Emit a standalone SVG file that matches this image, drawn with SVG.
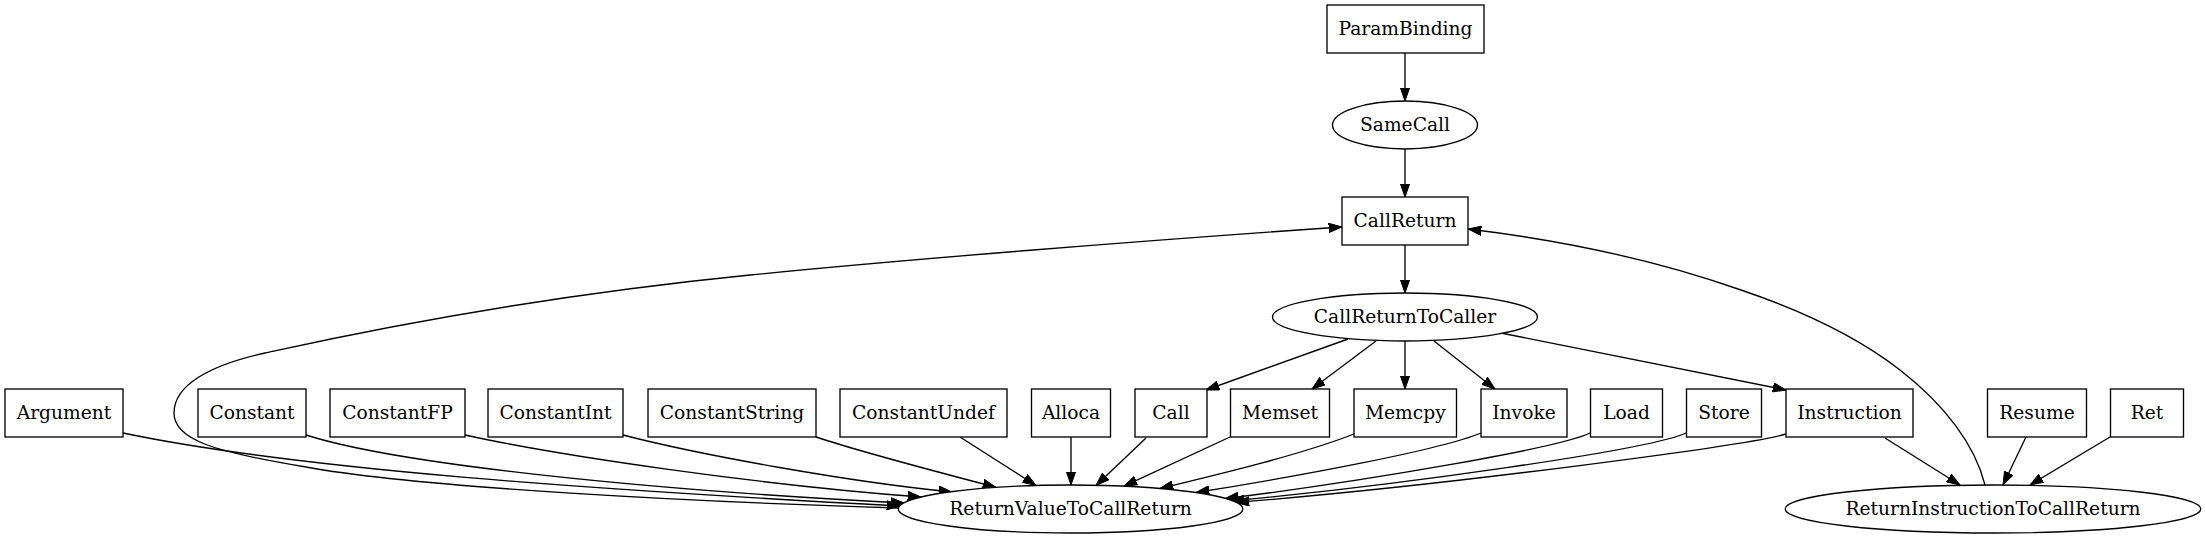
<svg xmlns="http://www.w3.org/2000/svg" width="2206" height="539" viewBox="0 0 2206 539">
<style>
.n rect, .n ellipse { fill: #ffffff; stroke: #000000; stroke-width: 1.33; }
.n text { font-size: 18.67px; fill: #000000; text-anchor: middle; }
.e path { fill: none; stroke: #000000; stroke-width: 1.33; marker-end: url(#arr); }
</style>
<defs>
<marker id="arr" markerUnits="userSpaceOnUse" markerWidth="14" markerHeight="10" viewBox="0 0 14 10" refX="13.3" refY="5" orient="auto">
<path d="M0,0.33 L13.3,5 L0,9.67 z" fill="#000000" stroke="#000000" stroke-width="1"/>
</marker>
</defs>
<rect width="2206" height="539" fill="#ffffff"/>
<g id="edges" class="e">
<path d="M1405,53 L1405,101"/>
<path d="M1405,149 L1405,197"/>
<path d="M1405,245 L1405,293"/>
<path d="M1348,339 L1206,390"/>
<path d="M1376,341 L1312,389"/>
<path d="M1405,341 L1405,389"/>
<path d="M1434,341 L1495,389"/>
<path d="M1501,333 L1786,390"/>
<path d="M898,508 C700,502 420,488 306,467 C215,452 174,440 174,413 C174,385 210,365 265,353 C320,341 500,300 750,275 C900,260 1150,240 1342,227"/>
<path d="M1985,485 C1975,445 1945,405 1900,370 C1855,335 1800,310 1741,290 C1650,258 1560,240 1468,229"/>
<path d="M123,433 C300,470 600,490 900,506"/>
<path d="M306,435 C400,465 650,490 904,503"/>
<path d="M465,435 C560,456 760,485 921,497"/>
<path d="M623,435 C700,455 850,482 952,492"/>
<path d="M816,437 C860,452 950,475 996,487.4"/>
<path d="M960,437 L1036,485.5"/>
<path d="M1071,437 L1071,485"/>
<path d="M1146,438 L1096,485.5"/>
<path d="M1230,437 L1124,486.2"/>
<path d="M1354,434 C1300,455 1220,474 1160,488.5"/>
<path d="M1481,433 C1440,450 1300,476 1196,492.5"/>
<path d="M1590,433 C1560,448 1360,482 1225,498.6"/>
<path d="M1686,433 C1650,450 1400,485 1231,501"/>
<path d="M1786,434 C1750,445 1450,485 1236,502.5"/>
<path d="M1885,438 L1960,485"/>
<path d="M2026,437 L2003,485"/>
<path d="M2110,437 L2030,485"/>
</g>
<g font-family="DejaVu Serif, serif">
<g id="ParamBinding" class="n"><rect x="1327" y="5" width="157" height="48"/><text x="1405.5" y="35">ParamBinding</text></g>
<g id="SameCall" class="n"><ellipse cx="1405" cy="125" rx="72.5" ry="24"/><text x="1405" y="131">SameCall</text></g>
<g id="CallReturn" class="n"><rect x="1342" y="197" width="126" height="48"/><text x="1405" y="227">CallReturn</text></g>
<g id="CallReturnToCaller" class="n"><ellipse cx="1405" cy="317" rx="132.5" ry="24"/><text x="1405" y="323">CallReturnToCaller</text></g>
<g id="Argument" class="n"><rect x="5" y="389" width="118" height="48"/><text x="64" y="419">Argument</text></g>
<g id="Constant" class="n"><rect x="198" y="389" width="108" height="48"/><text x="252" y="419">Constant</text></g>
<g id="ConstantFP" class="n"><rect x="330" y="389" width="135" height="48"/><text x="397.5" y="419">ConstantFP</text></g>
<g id="ConstantInt" class="n"><rect x="488" y="389" width="135" height="48"/><text x="555.5" y="419">ConstantInt</text></g>
<g id="ConstantString" class="n"><rect x="648" y="389" width="168" height="48"/><text x="732" y="419">ConstantString</text></g>
<g id="ConstantUndef" class="n"><rect x="840" y="389" width="167" height="48"/><text x="923.5" y="419">ConstantUndef</text></g>
<g id="Alloca" class="n"><rect x="1031.5" y="389" width="79" height="48"/><text x="1071" y="419">Alloca</text></g>
<g id="Call" class="n"><rect x="1135" y="389" width="72" height="48"/><text x="1171" y="419">Call</text></g>
<g id="Memset" class="n"><rect x="1230.5" y="389" width="99" height="48"/><text x="1280" y="419">Memset</text></g>
<g id="Memcpy" class="n"><rect x="1354" y="389" width="102.5" height="48"/><text x="1405.3" y="419">Memcpy</text></g>
<g id="Invoke" class="n"><rect x="1481" y="389" width="86" height="48"/><text x="1524" y="419">Invoke</text></g>
<g id="Load" class="n"><rect x="1590.5" y="389" width="72" height="48"/><text x="1626.5" y="419">Load</text></g>
<g id="Store" class="n"><rect x="1686.5" y="389" width="75" height="48"/><text x="1724" y="419">Store</text></g>
<g id="Instruction" class="n"><rect x="1786" y="389" width="127" height="48"/><text x="1849.5" y="419">Instruction</text></g>
<g id="Resume" class="n"><rect x="1987.5" y="389" width="99" height="48"/><text x="2037" y="419">Resume</text></g>
<g id="Ret" class="n"><rect x="2110.5" y="389" width="73" height="48"/><text x="2147" y="419">Ret</text></g>
<g id="ReturnValueToCallReturn" class="n"><ellipse cx="1070.6" cy="509" rx="172.3" ry="24"/><text x="1070.6" y="515">ReturnValueToCallReturn</text></g>
<g id="ReturnInstructionToCallReturn" class="n"><ellipse cx="1993" cy="509" rx="207.8" ry="24"/><text x="1993" y="515">ReturnInstructionToCallReturn</text></g>
</g>
</svg>
